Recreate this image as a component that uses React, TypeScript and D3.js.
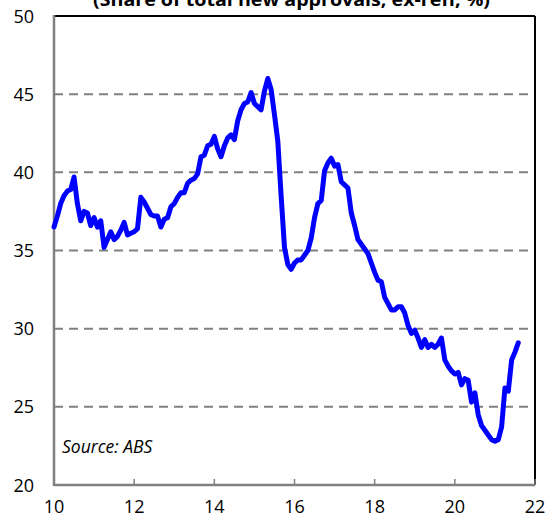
import React from "react";
import * as d3 from "d3";

const title = "(Share of total new approvals, ex-refi, %)";
const source = "Source: ABS";
const startYear = 10; // Jan 2010, monthly
const values: number[] = [
  36.5, 37.2, 38.0, 38.5, 38.8, 38.9, 39.7, 38.0, 36.9, 37.5,
  37.4, 36.6, 37.1, 36.5, 36.9, 35.2, 35.7, 36.2, 35.7, 35.9,
  36.3, 36.8, 36.0, 36.1, 36.2, 36.4, 38.4, 38.1, 37.7, 37.3,
  37.2, 37.2, 36.5, 37.0, 37.1, 37.8, 38.0, 38.4, 38.7, 38.7,
  39.3, 39.5, 39.6, 39.9, 41.0, 41.1, 41.7, 41.8, 42.3, 41.5,
  41.0, 41.7, 42.2, 42.4, 42.1, 43.3, 44.0, 44.4, 44.5, 45.1,
  44.4, 44.2, 44.0, 45.2, 46.0, 45.3, 43.7, 42.0, 38.5, 35.2,
  34.1, 33.8, 34.2, 34.4, 34.4, 34.7, 35.0, 35.8, 37.1, 38.0,
  38.2, 40.1, 40.6, 40.9, 40.4, 40.5, 39.4, 39.2, 39.0, 37.4,
  36.6, 35.7, 35.4, 35.1, 34.8, 34.2, 33.6, 33.1, 33.0, 32.0,
  31.6, 31.2, 31.2, 31.4, 31.4, 31.0, 30.2, 29.7, 29.9, 29.4,
  28.8, 29.3, 28.8, 29.0, 28.8, 29.0, 29.4, 28.0, 27.6, 27.3,
  27.1, 27.2, 26.4, 26.8, 26.7, 25.3, 25.9, 24.5, 23.8, 23.5,
  23.2, 22.9, 22.8, 22.9, 23.7, 26.2, 26.0, 28.0, 28.5, 29.1,
];
const xTicks = [10, 12, 14, 16, 18, 20, 22];
const yTicks = [20, 25, 30, 35, 40, 45, 50];
const gridTicks = [25, 30, 35, 40, 45];

const W = 552;
const H = 521;
const left = 54, right = 535, top = 16, bottom = 485;

export default function App() {
  const x = d3.scaleLinear().domain([10, 22]).range([left, right]);
  const y = d3.scaleLinear().domain([20, 50]).range([bottom, top]);
  const pts = values.map((v, i) => [startYear + i / 12, v] as [number, number]);
  const line = d3.line<[number, number]>().x((d) => x(d[0])).y((d) => y(d[1]));
  const font = "'Open Sans', Lato, sans-serif";
  return (
    <svg width={W} height={H} style={{ position: "absolute", left: 0, top: 0, background: "#fff" }} fontFamily={font}>
      <rect width={W} height={H} fill="#fff" />
      <text x={93} y={6} fontWeight="bold" fontSize={17} fill="#000" textLength={397} lengthAdjust="spacingAndGlyphs">{title}</text>
      {gridTicks.map((t) => (
        <line key={t} x1={left} x2={right} y1={y(t)} y2={y(t)} stroke="#808080" strokeWidth={2} strokeDasharray="9,6" />
      ))}
      <line x1={left} x2={right} y1={top} y2={top} stroke="#000" strokeWidth={2} />
      <line x1={right} x2={right} y1={top} y2={bottom} stroke="#000" strokeWidth={2} />
      <line x1={left} x2={left} y1={top - 1} y2={bottom + 1} stroke="#808080" strokeWidth={2.5} />
      <line x1={left} x2={right} y1={bottom} y2={bottom} stroke="#808080" strokeWidth={2.5} />
      {xTicks.slice(1).map((t) => (
        <line key={t} x1={x(t)} x2={x(t)} y1={bottom} y2={bottom - 6} stroke="#808080" strokeWidth={1.5} />
      ))}
      <path d={line(pts) || ""} fill="none" stroke="#0000FF" strokeWidth={5} strokeLinejoin="round" strokeLinecap="round" />
      {yTicks.map((t) => (
        <text key={t} x={34} y={y(t) + 6.5} textAnchor="end" fontSize={18} fill="#000">{t}</text>
      ))}
      {xTicks.map((t) => (
        <text key={t} x={x(t)} y={513} textAnchor="middle" fontSize={18} fill="#000">{t}</text>
      ))}
      <text x={62} y={453} fontStyle="italic" fontSize={17.5} fill="#000">{source}</text>
    </svg>
  );
}
